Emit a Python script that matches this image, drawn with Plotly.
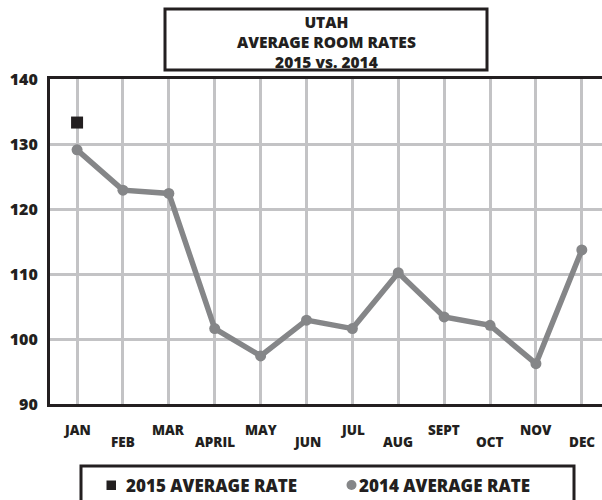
import plotly.graph_objects as go

months = ["JAN", "FEB", "MAR", "APRIL", "MAY", "JUN", "JUL", "AUG", "SEPT", "OCT", "NOV", "DEC"]
rate_2014 = [129.1, 122.9, 122.4, 101.6, 97.4, 102.9, 101.6, 110.2, 103.4, 102.1, 96.2, 113.7]
rate_2015 = [133.3]
y_ticks = [90, 100, 110, 120, 130, 140]
title_lines = ["UTAH", "AVERAGE ROOM RATES", "2015 vs. 2014"]
legend_labels = ["2015 AVERAGE RATE", "2014 AVERAGE RATE"]

W, H = 602, 500
L, R, T, B = 50, 0, 79, 96
PW, PH = W - L - R, H - T - B

def px(x):
    return (x - L) / PW

def py(y):
    return (H - B - y) / PH

DARK = "#231f20"
GREY = "#858688"
GRID = "#c3c3c5"
FONT = "Open Sans"

fig = go.Figure()
fig.add_trace(go.Scatter(
    x=list(range(len(rate_2014))), y=rate_2014, mode="lines+markers",
    line=dict(color=GREY, width=5.5), marker=dict(color=GREY, size=11),
    showlegend=False, cliponaxis=False))
fig.add_trace(go.Scatter(
    x=list(range(len(rate_2015))), y=rate_2015, mode="markers",
    marker=dict(color=DARK, size=12, symbol="square"),
    showlegend=False, cliponaxis=False))

annotations = []
for i, m in enumerate(months):
    yy = 430 if i % 2 == 0 else 442
    annotations.append(dict(x=i, xref="x", y=py(yy), yref="paper", text=m, showarrow=False,
                            font=dict(family=FONT, size=13.5, color=DARK, weight=800),
                            xanchor="center", yanchor="middle"))
annotations.append(dict(x=px(326), y=py(42), xref="paper", yref="paper", text="<br>".join(title_lines),
                        showarrow=False, align="center",
                        font=dict(family=FONT, size=15.5, color=DARK, weight=800),
                        xanchor="center", yanchor="middle"))
annotations.append(dict(x=px(124), y=py(485), xref="paper", yref="paper", text=legend_labels[0],
                        showarrow=False, xanchor="left", yanchor="middle",
                        font=dict(family=FONT, size=17, color=DARK, weight=800)))
annotations.append(dict(x=px(357), y=py(485), xref="paper", yref="paper", text=legend_labels[1],
                        showarrow=False, xanchor="left", yanchor="middle",
                        font=dict(family=FONT, size=17, color=DARK, weight=800)))

shapes = [
    dict(type="rect", xref="paper", yref="paper", x0=px(165), x1=px(487), y0=py(70), y1=py(9),
         line=dict(color=DARK, width=3), fillcolor="white", layer="above"),
    dict(type="rect", xref="paper", yref="paper", x0=px(81), x1=px(574), y0=py(505), y1=py(466),
         line=dict(color=DARK, width=3), fillcolor="white"),
    dict(type="rect", xref="paper", yref="paper", x0=px(106.5), x1=px(116), y0=py(490), y1=py(480.5),
         line=dict(width=0), fillcolor=DARK),
    dict(type="circle", xref="paper", yref="paper", x0=px(346.5), x1=px(356.5), y0=py(490), y1=py(480),
         line=dict(width=0), fillcolor=GREY),
]

fig.update_layout(
    width=W, height=H, margin=dict(l=L, r=R, t=T, b=B),
    paper_bgcolor="white", plot_bgcolor="white",
    xaxis=dict(range=[-0.59, 11.44], tickmode="array", tickvals=list(range(len(months))),
               ticktext=["" for _ in months], showgrid=True, gridcolor=GRID, gridwidth=3,
               showline=True, linecolor=DARK, linewidth=3, mirror=True, zeroline=False,
               fixedrange=True),
    yaxis=dict(range=[90, 140], tickmode="array", tickvals=y_ticks, ticktext=[str(v) for v in y_ticks],
               showgrid=True, gridcolor=GRID, gridwidth=3, showline=True, linecolor=DARK, linewidth=3,
               zeroline=False, ticks="", ticklabelstandoff=6,
               tickfont=dict(family=FONT, size=16, color=DARK, weight=800)),
    annotations=annotations, shapes=shapes,
)

fig.write_html("out.html", config={"displayModeBar": False},
               post_script="document.body.style.margin='0';document.body.style.overflow='hidden';")
